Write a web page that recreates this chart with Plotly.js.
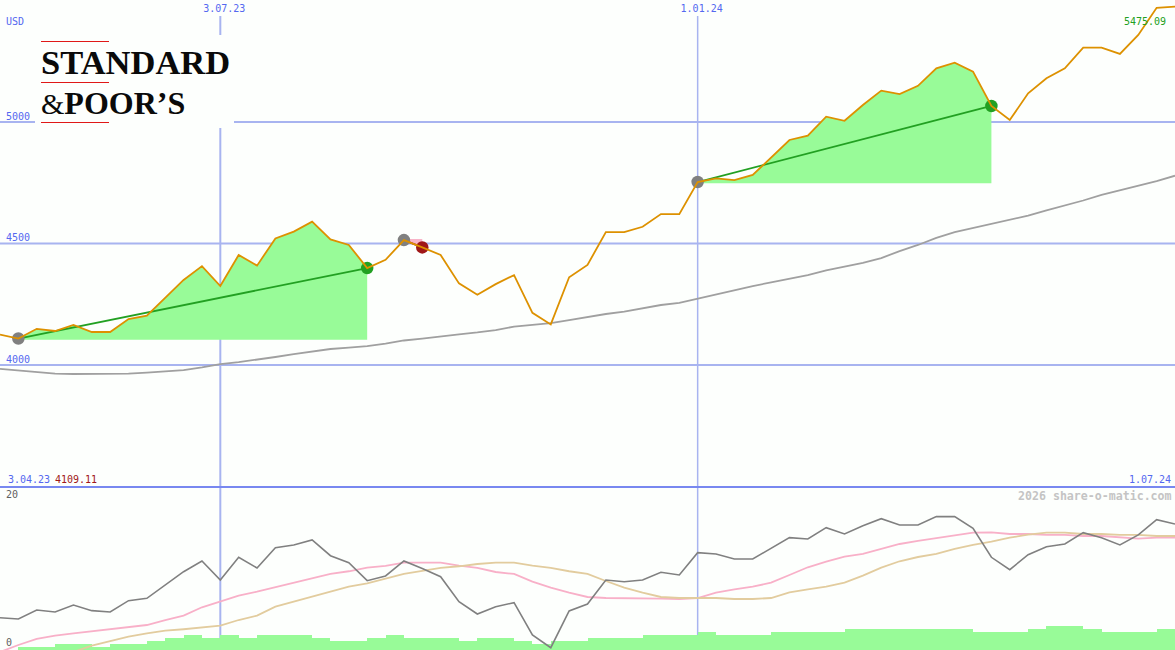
<!DOCTYPE html>
<html>
<head>
<meta charset="utf-8">
<script src="https://cdn.plot.ly/plotly-3.0.1.min.js"></script>
<style>html,body{margin:0;padding:0;background:#fdfffd}#c{width:1175px;height:650px}</style>
</head>
<body>
<div id="c"></div>
<script>
const weeks = Array.from({length: 65}, (_, i) => i);
const dateTickWeeks = [12, 38];
const dateTickLabels = ['3.07.23', '1.01.24'];
const priceGrid = [4000, 4500, 5000];
const priceGridLabels = ['4000', '4500', '5000'];
const oscTicks = [0, 20];
const oscTickLabels = ['0', '20'];

const price = [4125,4109.11,4149,4140,4165,4136,4136,4189,4203,4276,4350,4407,4325,4453,4409,4521,4549,4590,4517,4494,4399,4433,4514,4484,4453,4336,4289,4333,4370,4215,4167,4361,4412,4547,4547,4569,4621,4621,4753,4768,4761,4782,4854,4926,4944,5022,5005,5070,5129,5115,5149,5221,5244,5207,5066,5008,5118,5180,5221,5306,5306,5280,5358,5470,5475.09];
const movingAvg = [3984,3977,3971,3965,3963,3963,3963,3965,3969,3975,3979,3990,4004,4012,4021,4033,4045,4056,4066,4072,4078,4088,4101,4109,4116,4126,4134,4144,4158,4165,4172,4185,4198,4210,4220,4233,4247,4256,4274,4292,4309,4325,4340,4354,4370,4389,4405,4420,4440,4469,4494,4523,4547,4564,4580,4597,4615,4636,4656,4677,4700,4718,4737,4757,4779];
const oscGray = [4.39,4.22,5.44,5.17,6.12,5.35,5.17,6.71,7.03,8.84,10.65,12.11,9.52,12.61,11.16,13.92,14.29,14.97,12.83,11.88,9.43,10.07,12.11,11.09,9.97,6.57,4.9,5.89,6.44,2.04,0.31,5.31,6.26,9.52,9.29,9.52,10.57,10.2,13.24,13.06,12.38,12.38,13.84,15.28,15.1,16.64,15.78,16.91,17.86,17,17,18.14,18.14,16.56,12.61,10.93,12.97,14.05,14.42,15.96,15.28,14.29,15.65,17.73,17.14];
const oscPink = [-0.27,0.68,1.5,1.95,2.27,2.54,2.76,3.09,3.4,4.08,4.67,5.81,6.57,7.39,7.93,8.53,9.12,9.8,10.34,10.71,11.2,11.43,11.88,11.88,11.88,11.47,11.16,10.61,10.34,9.29,8.48,7.8,7.21,7.07,7.07,7.07,6.98,6.94,7.07,7.8,8.26,8.61,9.16,10.2,11.25,12.01,12.69,13.06,13.74,14.42,14.83,15.24,15.65,15.96,16.01,15.78,15.78,15.65,15.65,15.51,15.51,15.33,15.14,15.28,15.28];
const oscTan = [null,null,null,null,-0.27,0.59,1.22,1.81,2.27,2.63,2.82,3.09,3.31,4.08,4.67,5.89,6.57,7.35,7.93,8.61,9.07,9.66,10.34,10.75,11.16,11.39,11.7,11.88,11.88,11.47,11.16,10.71,10.34,9.39,8.48,7.8,7.21,7.07,7.07,7.07,6.94,6.94,7.07,7.85,8.26,8.61,9.16,10.11,11.2,12.07,12.65,13.06,13.74,14.29,14.73,15.28,15.69,15.96,15.96,15.78,15.78,15.65,15.65,15.51,15.51];
const volumeBars = [0,0.4,0.4,0.8,0.8,0.4,0.8,0.8,1.2,1.6,2,1.6,2,1.6,2,2,2,1.6,1.2,1.2,1.6,2,1.6,1.6,1.6,1.2,1.6,1.6,1.2,0.8,1.2,1.2,1.6,1.6,1.6,2,2,2,2.5,2,2,2,2.5,2.5,2.5,2.5,2.9,2.9,2.9,2.9,2.9,2.9,2.9,2.5,2.5,2.5,2.9,3.3,3.3,2.9,2.5,2.5,2.5,2.9];

const winStart = [1, 38];
const winEnd = [20, 54];
const lossStart = [22];
const lossEnd = [23];

const BG = '#fdfffd', GRID = '#a8b4f0', BLUE = '#5468f0';
const MONO = '"DejaVu Sans Mono", monospace';
const traces = [];

function wedge(start, end, color, drop) {
  const base = price[start] - drop;
  const xs = weeks.slice(start, end + 1).concat([end, start]);
  const ys = price.slice(start, end + 1).concat([base, base]);
  traces.push({x: xs, y: ys, type: 'scatter', mode: 'none', fill: 'toself', fillcolor: color, hoverinfo: 'skip'});
}
winStart.forEach((s, k) => wedge(s, winEnd[k], '#98fb98', 5));
lossStart.forEach((s, k) => wedge(s, lossEnd[k], '#f8b4c8', -5));

traces.push({x: weeks, y: movingAvg, type: 'scatter', mode: 'lines', line: {color: '#a0a0a0', width: 1.8}});

function trend(start, end, color) {
  traces.push({x: [start, end], y: [price[start], price[end]], type: 'scatter', mode: 'lines', line: {color: color, width: 1.8}});
}
winStart.forEach((s, k) => trend(s, winEnd[k], '#22a022'));
lossStart.forEach((s, k) => trend(s, lossEnd[k], '#a01818'));

const entries = winStart.concat(lossStart);
traces.push({x: entries, y: entries.map(i => price[i]), type: 'scatter', mode: 'markers', marker: {color: '#808080', size: 12.5}});
traces.push({x: winEnd, y: winEnd.map(i => price[i]), type: 'scatter', mode: 'markers', marker: {color: '#22a022', size: 12.5}});
traces.push({x: lossEnd, y: lossEnd.map(i => price[i]), type: 'scatter', mode: 'markers', marker: {color: '#a01818', size: 12.5}});
traces.push({x: weeks, y: price, type: 'scatter', mode: 'lines', line: {color: '#dd9100', width: 1.8}});

traces.push({x: weeks.slice(0, 64), y: volumeBars, yaxis: 'y2', type: 'bar', width: 1, offset: 0, marker: {color: '#98fb98', line: {width: 0}}});
traces.push({x: weeks, y: oscPink, yaxis: 'y2', type: 'scatter', mode: 'lines', line: {color: '#f8b0c8', width: 1.8}});
traces.push({x: weeks, y: oscTan, yaxis: 'y2', type: 'scatter', mode: 'lines', line: {color: '#e2cc9e', width: 1.8}});
traces.push({x: weeks, y: oscGray, yaxis: 'y2', type: 'scatter', mode: 'lines', line: {color: '#808080', width: 1.6}});

const px = v => v / 1175, py = v => 1 - v / 650;
const shapes = [];
dateTickWeeks.forEach((w, k) => shapes.push({type: 'line', layer: 'below', xref: 'x', yref: 'paper', x0: w, x1: w, y0: 0, y1: py(16), line: {color: GRID, width: k === 0 ? 2 : 1.5}}));
priceGrid.forEach(v => shapes.push({type: 'line', layer: 'below', xref: 'paper', yref: 'y', x0: 0, x1: 1, y0: v, y1: v, line: {color: GRID, width: 2}}));
shapes.push({type: 'line', layer: 'below', xref: 'paper', yref: 'paper', x0: 0, x1: 1, y0: py(487), y1: py(487), line: {color: '#7888f0', width: 2}});
shapes.push({type: 'rect', layer: 'below', xref: 'paper', yref: 'paper', x0: px(35), x1: px(234), y0: py(128), y1: py(35), fillcolor: BG, line: {width: 0}});
[41.5, 82.5, 122.5].forEach(t => shapes.push({type: 'line', layer: 'above', xref: 'paper', yref: 'paper', x0: px(41), x1: px(109), y0: py(t), y1: py(t), line: {color: '#e01818', width: 1}}));

function label(text, x, y, color, size, anchor, opts) {
  return Object.assign({text: text, xref: 'paper', yref: 'paper', x: px(x), y: py(y), xanchor: anchor || 'left', yanchor: 'middle', showarrow: false, borderpad: 0, font: {family: MONO, size: size || 10, color: color}}, opts || {});
}
const logoFont = size => ({font: {family: 'Liberation Serif', size: size, color: '#0a0a0a'}});
const annotations = [
  label('USD', 5, 21.5, BLUE),
  label('3.04.23', 7, 479.5, BLUE),
  label('4109.11', 54, 479.5, '#a01818'),
  label('1.07.24', 1172, 479.5, BLUE, 10, 'right'),
  label('5475.09', 1167, 21.5, '#22a022', 10, 'right'),
  label('<b>2026 share-o-matic.com</b>', 1173, 496, '#c4c4c4', 11.6, 'right'),
  label('<b>STANDARD</b>', 40, 62, '#000', 34.5, 'left', logoFont(34.5)),
  label('<span style="font-size:30px">&amp;</span><b>POOR’S</b>', 40, 103, '#000', 32, 'left', logoFont(32))
];

const layout = {
  width: 1175, height: 650, showlegend: false, bargap: 0,
  margin: {l: 0, r: 0, t: 0, b: 0, pad: 0},
  paper_bgcolor: BG, plot_bgcolor: BG,
  hovermode: false,
  xaxis: {range: [0, 64], side: 'top', anchor: 'y', showgrid: false, zeroline: false, showline: false, ticks: '',
    tickmode: 'array', tickvals: dateTickWeeks, ticktext: dateTickLabels, ticklabelposition: 'inside',
    ticklabelshift: 4, ticklabelstandoff: 2, tickfont: {family: MONO, size: 10, color: BLUE}},
  yaxis: {domain: [162 / 650, 1], range: [3494, 5502], showgrid: false, zeroline: false, showline: false, ticks: '',
    tickmode: 'array', tickvals: priceGrid, ticktext: priceGridLabels, ticklabelposition: 'inside',
    ticklabelshift: -6, ticklabelstandoff: 3, tickfont: {family: MONO, size: 10, color: BLUE}},
  yaxis2: {domain: [0, 161 / 650], range: [0, 21.9], showgrid: false, zeroline: false, showline: false, ticks: '',
    tickmode: 'array', tickvals: oscTicks, ticktext: oscTickLabels, ticklabelposition: 'inside',
    ticklabelshift: -8, ticklabelstandoff: 3, tickfont: {family: MONO, size: 10, color: '#606060'}},
  shapes: shapes, annotations: annotations
};
Plotly.newPlot('c', traces, layout, {displayModeBar: false, staticPlot: true});
</script>
</body>
</html>
